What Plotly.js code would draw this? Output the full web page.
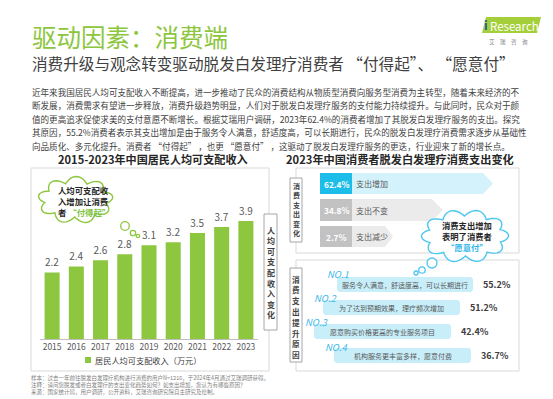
<!DOCTYPE html>
<html><head><meta charset="utf-8">
<script src="https://cdn.plot.ly/plotly-3.0.1.min.js"></script>
<style>html,body{margin:0;padding:0;background:#fff;}#chart{width:553px;height:399px;}</style>
</head><body><div id="chart"></div>
<script>
// ---------- data ----------
const years = ['2015','2016','2017','2018','2019','2020','2021','2022','2023'];
const income = [2.2, 2.4, 2.6, 2.8, 3.1, 3.2, 3.5, 3.7, 3.9];
const seriesName = '居民人均可支配收入（万元）';
const spendLabels = ['支出增加','支出不变','支出减少'];
const spendShares = [62.4, 34.8, 2.7];
const reasonLabels = ['服务令人满意，舒适度高，可以长期进行','为了达到预期效果，理疗频次增加','愿意购买价格更高的专业服务项目','机构服务更丰富多样，愿意付费'];
const reasonShares = [55.2, 51.2, 42.4, 36.7];
const reasonRanks = ['NO.1','NO.2','NO.3','NO.4'];

// ---------- helpers ----------
const W = 553, H = 399;
const FONT = '"Noto Sans CJK SC", "Noto Sans", sans-serif';
const px = x => x / W, py = y => 1 - y / H;
const shapes = [], ann = [];
function rect(x0, y0, x1, y1, fill, line, lw, layer) {
  shapes.push({type:'rect', xref:'paper', yref:'paper', x0:px(x0), x1:px(x1), y0:py(y1), y1:py(y0),
    fillcolor:fill, line:{color:line||'rgba(0,0,0,0)', width:lw||0}, layer:layer||'above'});
}
function pathShape(pts, fill, line, lw) {
  shapes.push({type:'path', xref:'paper', yref:'paper',
    path:'M' + pts.map(p => px(p[0]).toFixed(5) + ',' + py(p[1]).toFixed(5)).join('L') + 'Z',
    fillcolor:fill, line:{color:line||'rgba(0,0,0,0)', width:lw||0}, layer:'above'});
}
function circle(cx, cy, r, line) {
  shapes.push({type:'circle', xref:'paper', yref:'paper', x0:px(cx-r), x1:px(cx+r), y0:py(cy+r), y1:py(cy-r),
    fillcolor:'#fff', line:{color:line, width:1.3}, layer:'above'});
}
function cloud(cx, cy, rx, ry, n, amp, phase, line) {
  const pts = [];
  for (let i = 0; i < n; i++) for (let j = 0; j < 12; j++) {
    const t = j / 12, th = phase + 2 * Math.PI * (i + t) / n, b = amp * Math.sin(Math.PI * t);
    pts.push([cx + (rx + b) * Math.cos(th), cy + (ry + b) * Math.sin(th)]);
  }
  pathShape(pts, '#fff', line, 1.4);
}
function roundRect(x0, y0, x1, y1, r, fill) {
  const pts = [];
  const seg = (cx, cy, a0) => { for (let k = 0; k <= 6; k++) { const a = a0 + k * Math.PI / 12; pts.push([cx + r * Math.cos(a), cy + r * Math.sin(a)]); } };
  seg(x1 - r, y0 + r, -Math.PI / 2); seg(x1 - r, y1 - r, 0); seg(x0 + r, y1 - r, Math.PI / 2); seg(x0 + r, y0 + r, Math.PI);
  pathShape(pts, fill);
}
function text(x, y, t, size, color, xanchor, extra) {
  ann.push(Object.assign({xref:'paper', yref:'paper', x:px(x), y:py(y), text:t, showarrow:false, borderpad:0,
    xanchor:xanchor||'left', yanchor:'middle', font:{family:FONT, size:size, color:color||'#404040'}}, extra||{}));
}
function vtext(str, cx, y0, step, size) {
  [...str].forEach((c, i) => text(cx, y0 + i * step, '<b>' + c + '</b>', size, '#404040', 'center'));
}

// ---------- header ----------
text(31, 36, '驱动因素：消费端', 24.5, '#8cc63e');
text(31, 63, '消费升级与观念转变驱动脱发白发理疗消费者 “付得起”、 “愿意付”', 15.6, '#404040');
// logo
pathShape([[486,17],[541,17],[537,33],[482,33]], '#a4cf3a');
text(483, 25, '<b>i</b>', 12, '#1f5aa6', 'left');
text(489, 25.5, 'Research', 11.5, '#ffffff', 'left');
text(508, 42, '艾　瑞　咨　询', 5.5, '#808080', 'center');

// paragraph
const para = [
  '近年来我国居民人均可支配收入不断提高，进一步推动了民众的消费结构从物质型消费向服务型消费为主转型，随着未来经济的不',
  '断发展，消费需求有望进一步释放，消费升级趋势明显，人们对于脱发白发理疗服务的支付能力持续提升。与此同时，民众对于颜',
  '值的更高追求促使求美的支付意愿不断增长。根据艾瑞用户调研，2023年62.4%的消费者增加了其脱发白发理疗服务的支出。探究',
  '其原因，55.2%消费者表示其支出增加是由于服务令人满意，舒适度高，可以长期进行，民众的脱发白发理疗消费需求逐步从基础性',
  '向品质化、多元化提升。消费者 “付得起” ，也更 “愿意付” ，这驱动了脱发白发理疗服务的更迭，行业迎来了新的增长点。'
];
para.forEach((l, i) => text(31, 92 + i * 13.4, l, 8.55, '#404040'));

// ---------- left panel ----------
text(153, 159, '<b>2015-2023年中国居民人均可支配收入</b>', 11.1, '#262626', 'center');
rect(31, 168, 269, 371, 'rgba(0,0,0,0)', '#d9d9d9', 1, 'below');
rect(264, 214, 277, 330, '#fff', '#a6a6a6', 1);
vtext('人均可支配收入变化', 270.5, 230, 10.6, 8);
// legend
rect(85, 357, 91, 363, '#8dc63f');
text(94, 360, seriesName, 8.2, '#404040');
// cloud
cloud(75.5, 200, 31, 17, 9, 6.5, 0.2, '#8dc63f');
circle(125, 226, 4.3, '#8dc63f');
circle(133, 233, 2.7, '#8dc63f');
circle(138, 236, 1.7, '#8dc63f');
text(57, 201, '<b>人均可支配收<br>入增加让消费<br>者 <span style="color:#7cc242">“付得起”</span></b>', 8.4, '#262626', 'left', {align:'left'});

// ---------- right panel ----------
text(400, 159, '<b>2023年中国消费者脱发白发理疗消费支出变化</b>', 11.2, '#262626', 'center');
rect(296, 168, 519, 253, '#fff', '#d9d9d9', 1);
rect(296, 260, 519, 371, '#fff', '#d9d9d9', 1);
rect(290, 178, 302, 242, '#fff', '#a6a6a6', 1);
vtext('消费支出变化', 296, 186, 9.4, 7);
rect(290, 268, 302, 362, '#fff', '#a6a6a6', 1);
vtext('消费支出提升原因', 296, 279, 10.8, 7.6);

// spend arrows
const arrowGeom = [[173,194,483,493],[199,221,432,443],[226,247,385,393]];
const arrowLight = ['#d3f2fb','#ebebeb','#ebebeb'];
const arrowDark = ['#1dbde9','#c2c2c2','#c2c2c2'];
spendLabels.forEach((lab, i) => {
  const [y0, y1, xb, xt] = arrowGeom[i];
  pathShape([[320,y0],[xb,y0],[xt,(y0+y1)/2],[xb,y1],[320,y1]], arrowLight[i]);
  rect(320, y0, 352, y1, arrowDark[i]);
  text(336, (y0+y1)/2, '<b>' + spendShares[i].toFixed(1) + '%</b>', 8.3, '#fff', 'center');
  text(355, (y0+y1)/2, lab, 8, '#595959');
});

// reasons
const rowGeom = [[337,277,473],[323,300,460],[314,324,451],[334,348,471]];
const rankPos = [[338,274],[325,298],[317,322],[336,347]];
reasonLabels.forEach((lab, i) => {
  const [x0, y0, x1] = rowGeom[i];
  roundRect(x0, y0, x1, y0 + 15, 3, '#c8eefa');
  text((x0+x1)/2, y0 + 8, lab, 7, '#595959', 'center');
  text(x1 + 9, y0 + 7.5, '<b>' + reasonShares[i].toFixed(1) + '%</b>', 9, '#404040', 'left');
  text(rankPos[i][0], rankPos[i][1], '<i>' + reasonRanks[i] + '</i>', 9.5, '#3cb9ea', 'center');
});

// blue cloud (on top of boxes)
cloud(465, 236, 37, 20, 10, 6.5, 0.3, '#4cc7f0');
circle(432, 263, 5, '#4cc7f0');
circle(422, 270, 3.2, '#4cc7f0');
circle(416, 273, 2, '#4cc7f0');
text(467, 236, '<b>消费支出增加<br>表明了消费者<br><span style="color:#2fb6e8">“愿意付”</span></b>', 8.3, '#262626', 'center');

// footer
const foot = [
  '样本：过去一年前往脱发白发理疗机构进行消费的用户N=1216，于2024年4月通过艾瑞调研获得。',
  '注释：请问您脱发或者白发理疗的支出变化趋势如何？如支出增加，您认为有哪些原因？',
  '来源：国家统计局，用户调研，公开资料，艾瑞咨询研究院自主研究及绘制。'
];
foot.forEach((l, i) => text(30, 378 + i * 7.2, l, 5.5, '#7f7f7f'));

// ---------- bar trace ----------
const trace = {
  type:'bar', x:years, y:income, name:seriesName,
  marker:{color:'#8dc63f'},
  text:income.map(v => v.toFixed(1)), textposition:'outside', cliponaxis:false,
  textfont:{family:FONT, size:10, color:'#595959'},
  hoverinfo:'x+y'
};
const layout = {
  width:W, height:H, margin:{l:0, r:0, t:0, b:0},
  paper_bgcolor:'#fff', plot_bgcolor:'rgba(0,0,0,0)',
  showlegend:false, bargap:0.38,
  font:{family:FONT},
  xaxis:{domain:[px(40), px(258)], type:'category', showline:true, linecolor:'#bfbfbf', linewidth:1,
    ticks:'', showgrid:false, zeroline:false, tickfont:{family:FONT, size:8.5, color:'#595959'}, fixedrange:true},
  yaxis:{domain:[py(339), py(187.7)], range:[0,5], visible:false, fixedrange:true},
  shapes:shapes, annotations:ann
};
Plotly.newPlot('chart', [trace], layout, {displayModeBar:false, staticPlot:true});
</script></body></html>
